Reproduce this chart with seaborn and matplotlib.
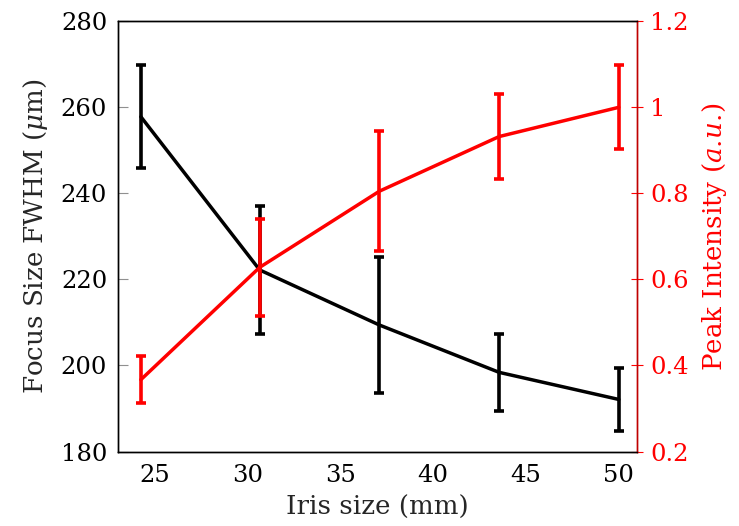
import matplotlib
matplotlib.use("Agg")
import matplotlib.pyplot as plt
import seaborn as sns
import pandas as pd

# Data
iris_size = [24.25, 30.65, 37.1, 43.55, 50.0]
focus_fwhm = [257.8, 222.2, 209.4, 198.4, 192.1]
focus_err = [12.0, 14.8, 15.9, 9.0, 7.3]
peak_intensity = [0.367, 0.628, 0.805, 0.932, 1.0]
peak_err = [0.055, 0.112, 0.139, 0.099, 0.098]
x_ticks = [25, 30, 35, 40, 45, 50]
left_ticks = [180, 200, 220, 240, 260, 280]
right_ticks = [0.2, 0.4, 0.6, 0.8, 1.0, 1.2]
right_tick_labels = ["0.2", "0.4", "0.6", "0.8", "1", "1.2"]

sns.set_style("white")
plt.rcParams['font.family'] = ['DejaVu Serif']
plt.rcParams['mathtext.fontset'] = 'dejavuserif'

df = pd.DataFrame({"x": iris_size, "fwhm": focus_fwhm, "peak": peak_intensity})

fig = plt.figure(figsize=(7.39, 5.26), dpi=100)
ax = fig.add_axes([0.160, 0.1416, 0.702, 0.818])
ax2 = ax.twinx()

FS = 17.5
LFS = 18.8
RED = '#ff0000'

sns.lineplot(data=df, x="x", y="fwhm", ax=ax, color='black', linewidth=2.5)
ax.errorbar(iris_size, focus_fwhm, yerr=focus_err, fmt='none', ecolor='black',
            elinewidth=2.6, capsize=3.8, capthick=2.6)

sns.lineplot(data=df, x="x", y="peak", ax=ax2, color=RED, linewidth=2.5)
ax2.errorbar(iris_size, peak_intensity, yerr=peak_err, fmt='none', ecolor=RED,
             elinewidth=2.6, capsize=3.8, capthick=2.6)

ax.set_xlim(23.03, 50.98)
ax.set_ylim(180, 280)
ax2.set_ylim(0.2, 1.2)

ax.set_xticks(x_ticks)
ax.set_yticks(left_ticks)
ax2.set_yticks(right_ticks)
ax2.set_yticklabels(right_tick_labels)

ax.tick_params(axis='both', direction='in', length=7, width=0.8, color='#909090',
               labelsize=FS, labelcolor='black', pad=6)
ax.tick_params(axis='x', pad=9)
ax.tick_params(axis='y', pad=8)
ax.tick_params(top=False, right=False)
ax2.tick_params(axis='y', direction='inout', length=9, width=0.8, color=RED,
                labelsize=FS, labelcolor=RED, pad=5)

ax.set_xlabel("Iris size (mm)", fontsize=LFS, labelpad=6)
ax.set_ylabel(r"Focus Size FWHM ($\mu$m)", fontsize=LFS, labelpad=8)
ax2.set_ylabel(r"Peak Intensity ($a.\!u.\!$)", fontsize=LFS, color=RED, labelpad=8)

for a in (ax, ax2):
    for s in a.spines.values():
        s.set_linewidth(1.0)
        s.set_color('black')
    a.spines['right'].set_color('#c00000')
    a.grid(False)

fig.savefig("out.png", dpi=100)
